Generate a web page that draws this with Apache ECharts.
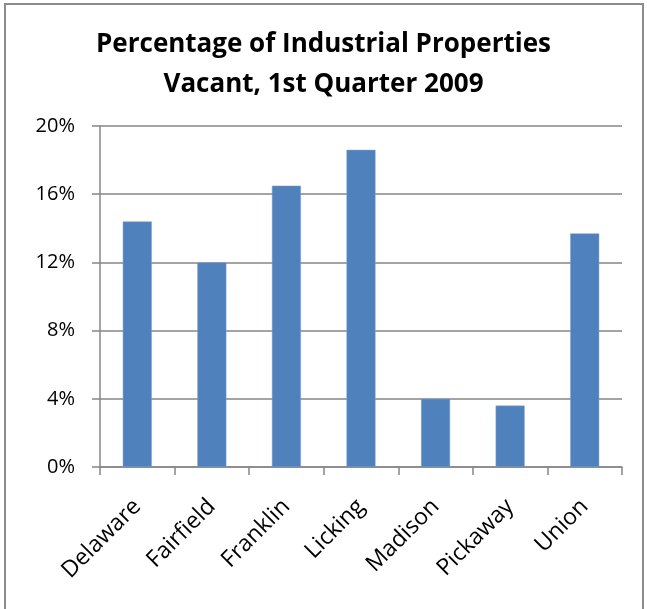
<!DOCTYPE html>
<html>
<head>
<meta charset="utf-8">
<script src="https://cdn.jsdelivr.net/npm/echarts@6/dist/echarts.min.js"></script>
<style>
html,body{margin:0;padding:0;background:#fff;}
#c{width:647px;height:609px;}
</style>
</head>
<body>
<div id="c"></div>
<script>
const titleText = 'Percentage of Industrial Properties\nVacant, 1st Quarter 2009';
const categories = ['Delaware','Fairfield','Franklin','Licking','Madison','Pickaway','Union'];
const vacancy = [14.4, 12.0, 16.5, 18.6, 4.0, 3.6, 13.7];
const yTicks = [0, 4, 8, 12, 16, 20];

const chart = echarts.init(document.getElementById('c'), null, {renderer:'canvas'});
const FONT = 'Open Sans';
chart.setOption({
  backgroundColor: '#fff',
  animation: false,
  graphic: [{
    type: 'rect', shape: {x: 5, y: 4, width: 638, height: 620},
    style: {fill: 'none', stroke: '#8c8c8c', lineWidth: 2}, z: -1
  }],
  title: {
    text: titleText, left: 'center', top: 20, padding: [5, 0, 5, 6],
    textStyle: {fontFamily: FONT, fontWeight: 'bold', fontSize: 26, lineHeight: 40, color: '#000'}
  },
  grid: {left: 100, right: 25, top: 126, bottom: 142, containLabel: false},
  xAxis: {
    type: 'category', data: categories,
    axisLine: {lineStyle: {color: '#868686', width: 1.5}},
    axisTick: {show: true, length: 8, lineStyle: {color: '#868686', width: 1.5}},
    axisLabel: {rotate: 45, fontFamily: FONT, fontSize: 23, color: '#000', margin: 36, interval: 0}
  },
  yAxis: {
    type: 'value', min: yTicks[0], max: yTicks[yTicks.length-1], interval: 4,
    axisLine: {show: true, lineStyle: {color: '#868686', width: 1.5}},
    axisTick: {show: true, length: 8, lineStyle: {color: '#868686', width: 1.5}},
    splitLine: {lineStyle: {color: '#868686', width: 1.5}},
    axisLabel: {formatter: '{value}%', fontFamily: FONT, fontSize: 20, color: '#000', margin: 25}
  },
  series: [{
    type: 'bar', data: vacancy, barWidth: 29,
    itemStyle: {color: '#4F81BD', borderColor: '#7fa1cf', borderWidth: 0.5}
  }]
});
</script>
</body>
</html>
